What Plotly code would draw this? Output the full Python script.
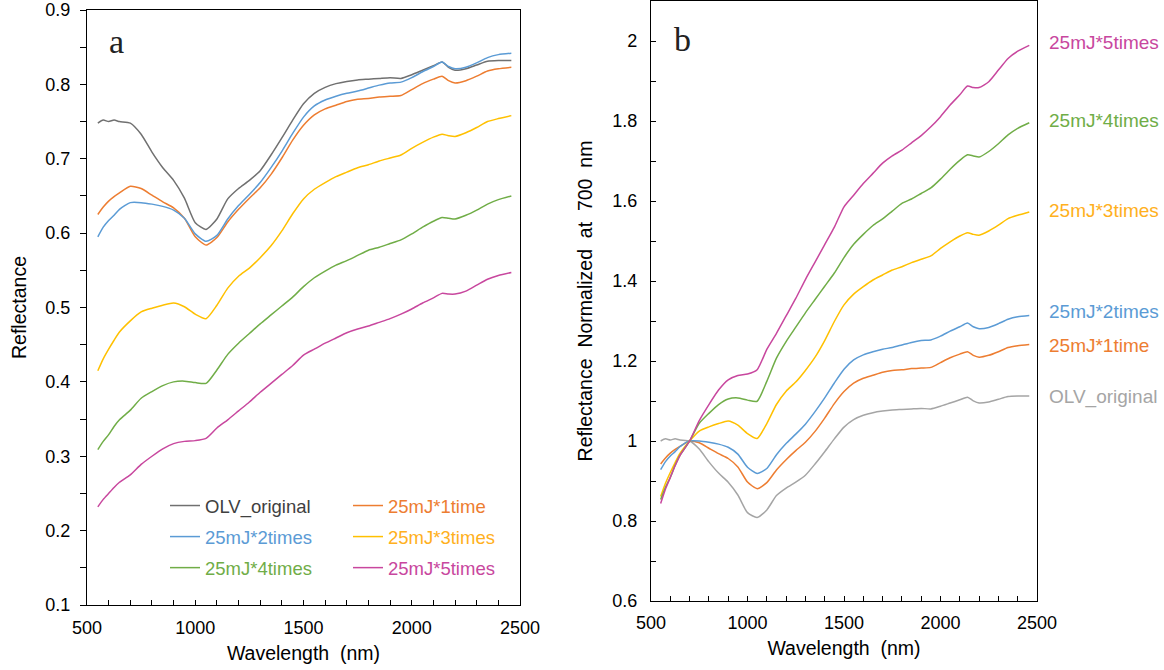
import numpy as np
import plotly.graph_objects as go

# ---------------- data ----------------
wavelength = [550, 575, 600, 625, 650,
              700, 750, 800, 850, 900, 950, 1000, 1050, 1100, 1150,
              1200, 1250, 1300, 1350, 1400, 1450, 1500, 1550, 1600, 1650,
              1700, 1750, 1800, 1850, 1900, 1950, 2000, 2050, 2100,
              2140, 2170, 2200, 2250, 2300, 2350, 2400, 2460]

olv_original = [0.748, 0.752, 0.750, 0.752, 0.750,
                0.748, 0.733, 0.709, 0.688, 0.671, 0.647, 0.614, 0.605, 0.619, 0.646,
                0.660, 0.671, 0.684, 0.705, 0.728, 0.752, 0.774, 0.788, 0.796, 0.801,
                0.804, 0.806, 0.807, 0.808, 0.809, 0.808, 0.813, 0.819, 0.825,
                0.830, 0.823, 0.819, 0.821, 0.826, 0.831, 0.832, 0.832]
mj25_1time = [0.625, 0.635, 0.643, 0.649, 0.654,
              0.663, 0.660, 0.651, 0.642, 0.634, 0.620, 0.595, 0.584, 0.594, 0.615,
              0.632, 0.647, 0.661, 0.679, 0.701, 0.725, 0.745, 0.759, 0.767, 0.772,
              0.777, 0.780, 0.781, 0.783, 0.784, 0.785, 0.793, 0.801, 0.807,
              0.811, 0.805, 0.802, 0.805, 0.811, 0.818, 0.821, 0.823]
mj25_2times = [0.595, 0.608, 0.617, 0.624, 0.632,
               0.641, 0.641, 0.639, 0.636, 0.631, 0.620, 0.599, 0.589, 0.597, 0.619,
               0.637, 0.652, 0.668, 0.688, 0.710, 0.734, 0.756, 0.771, 0.779, 0.784,
               0.788, 0.791, 0.795, 0.799, 0.802, 0.803, 0.809, 0.817, 0.824,
               0.830, 0.824, 0.821, 0.823, 0.829, 0.836, 0.840, 0.842]
mj25_3times = [0.415, 0.431, 0.444, 0.456, 0.467,
               0.482, 0.494, 0.499, 0.503, 0.506, 0.501, 0.491, 0.485, 0.503, 0.526,
               0.542, 0.553, 0.567, 0.583, 0.603, 0.626, 0.646, 0.659, 0.668, 0.676,
               0.682, 0.688, 0.692, 0.697, 0.701, 0.705, 0.714, 0.722, 0.729,
               0.733, 0.731, 0.730, 0.735, 0.742, 0.750, 0.754, 0.758]
mj25_4times = [0.309, 0.320, 0.329, 0.340, 0.349,
               0.362, 0.378, 0.387, 0.395, 0.400, 0.401, 0.399, 0.398, 0.416, 0.437,
               0.452, 0.465, 0.478, 0.490, 0.502, 0.514, 0.528, 0.540, 0.549, 0.557,
               0.563, 0.570, 0.577, 0.581, 0.586, 0.591, 0.599, 0.608, 0.616,
               0.621, 0.620, 0.619, 0.624, 0.631, 0.639, 0.645, 0.650]
mj25_5times = [0.232, 0.242, 0.250, 0.258, 0.265,
               0.275, 0.289, 0.300, 0.310, 0.317, 0.320, 0.321, 0.324, 0.338, 0.349,
               0.361, 0.373, 0.386, 0.398, 0.410, 0.422, 0.436, 0.444, 0.452, 0.459,
               0.466, 0.471, 0.475, 0.480, 0.485, 0.491, 0.498, 0.506, 0.513,
               0.519, 0.518, 0.518, 0.522, 0.530, 0.538, 0.543, 0.547]

series_names = ["OLV_original", "25mJ*1time", "25mJ*2times",
                "25mJ*3times", "25mJ*4times", "25mJ*5times"]
series_values = [olv_original, mj25_1time, mj25_2times,
                 mj25_3times, mj25_4times, mj25_5times]
line_colors_a = ["#707070", "#ED7D31", "#5B9BD5", "#FFC000", "#70AD47", "#C8479E"]
line_colors_b = ["#A5A5A5", "#ED7D31", "#5B9BD5", "#FFC000", "#70AD47", "#C8479E"]
legend_text_colors = ["#404040", "#ED7D31", "#5B9BD5", "#FFB020", "#70AD47", "#C8479E"]
label_colors_b = ["#A5A5A5", "#ED7D31", "#5B9BD5", "#FFB020", "#70AD47", "#C8479E"]
legend_column = ["legend", "legend2", "legend", "legend2", "legend", "legend2"]
label_y_b = [1.11, 1.24, 1.325, 1.575, 1.802, 1.995]   # positions of right-hand labels
norm_wavelength = 700

x_ticks = [500, 1000, 1500, 2000, 2500]

# ---------------- figure ----------------
W, H = 1164, 670
FONT = "Liberation Sans, Arial, sans-serif"
wl = np.array(wavelength)
i700 = int(np.where(wl == norm_wavelength)[0][0])

fig = go.Figure()
for k, (name, vals) in enumerate(zip(series_names, series_values)):
    v = np.array(vals)
    fig.add_trace(go.Scatter(
        x=wl, y=v, mode="lines", xaxis="x", yaxis="y",
        name=f'<span style="color:{legend_text_colors[k]}">{name}</span>',
        legend=legend_column[k], legendgroup=name,
        line=dict(color=line_colors_a[k], width=1.5, shape="spline", smoothing=0.6),
    ))
for k, (name, vals) in enumerate(zip(series_names, series_values)):
    v = np.array(vals)
    fig.add_trace(go.Scatter(
        x=wl, y=v / v[i700], mode="lines", xaxis="x2", yaxis="y2",
        name=name, legendgroup=name, showlegend=False,
        line=dict(color=line_colors_b[k], width=1.5, shape="spline", smoothing=0.6),
    ))

def px_x(p):
    return p / W

def px_y(p):
    return (H - p) / H

axis_common = dict(showline=True, linecolor="black", linewidth=1.3, mirror=True,
                   showgrid=False, zeroline=False, tickcolor="black",
                   tickfont=dict(family=FONT, size=18, color="black"))
title_font = dict(family=FONT, size=19.5, color="black")

fig.update_layout(
    width=W, height=H,
    margin=dict(l=0, r=0, t=0, b=0),
    paper_bgcolor="white", plot_bgcolor="white",
    font=dict(family=FONT, size=18, color="black"),
    xaxis=dict(domain=[px_x(87), px_x(520)], range=[500, 2500], anchor="y",
               tickvals=x_ticks, ticks="inside", ticklen=5,
               minor=dict(dtick=100, tick0=500, ticks="inside", ticklen=5, tickcolor="black"),
               title=dict(text="Wavelength\u00a0 (nm)", standoff=9, font=title_font),
               ticklabelstandoff=6, automargin=False, **axis_common),
    yaxis=dict(domain=[px_y(605), px_y(10)], range=[0.1, 0.9], anchor="x",
               tick0=0.1, dtick=0.1, tickformat=".1f", ticks="outside", ticklen=6,
               minor=dict(dtick=0.05, tick0=0.1, ticks="outside", ticklen=6, tickcolor="black"),
               title=dict(text="Reflectance", standoff=13, font=title_font),
               ticklabelstandoff=6, automargin=False, **axis_common),
    xaxis2=dict(domain=[px_x(651), px_x(1037)], range=[500, 2500], anchor="y2",
                tickvals=x_ticks, ticks="inside", ticklen=5,
                minor=dict(dtick=100, tick0=500, ticks="inside", ticklen=5, tickcolor="black"),
                title=dict(text="Wavelength\u00a0 (nm)", standoff=9, font=title_font),
                ticklabelstandoff=5, automargin=False, **axis_common),
    yaxis2=dict(domain=[px_y(601), px_y(1)], range=[0.6, 2.1], anchor="x2",
                tick0=0.6, dtick=0.2, ticks="inside", ticklen=5,
                minor=dict(dtick=0.1, tick0=0.6, ticks="inside", ticklen=5, tickcolor="black"),
                title=dict(text="Reflectance\u00a0 Normalized\u00a0 at\u00a0 700\u00a0 nm", standoff=14,
                           font=title_font),
                ticklabelstandoff=9, automargin=False, **axis_common),
    legend=dict(x=px_x(165), xanchor="left", y=px_y(487), yanchor="top",
                bgcolor="rgba(0,0,0,0)", borderwidth=0, tracegroupgap=4,
                traceorder="grouped", font=dict(family=FONT, size=18.5)),
    legend2=dict(x=px_x(348), xanchor="left", y=px_y(487), yanchor="top",
                 bgcolor="rgba(0,0,0,0)", borderwidth=0, tracegroupgap=4,
                 traceorder="grouped", font=dict(family=FONT, size=18.5)),
    showlegend=True,
)

# panel letters
fig.add_annotation(text="a", xref="paper", yref="paper", x=px_x(116), y=px_y(42),
                   showarrow=False, xanchor="center", yanchor="middle",
                   font=dict(family="Liberation Serif, Times New Roman, serif", size=34, color="#222"))
fig.add_annotation(text="b", xref="paper", yref="paper", x=px_x(682), y=px_y(40),
                   showarrow=False, xanchor="center", yanchor="middle",
                   font=dict(family="Liberation Serif, Times New Roman, serif", size=34, color="#222"))

# right-hand labels for panel b
for k, name in enumerate(series_names):
    fig.add_annotation(text=name, xref="paper", yref="y2", x=px_x(1037), y=label_y_b[k],
                       xanchor="left", yanchor="middle", xshift=10, showarrow=False,
                       font=dict(family=FONT, size=19, color=label_colors_b[k]))

fig.write_html("out.html", config={"displayModeBar": False},
               post_script="document.body.style.margin='0px';")
